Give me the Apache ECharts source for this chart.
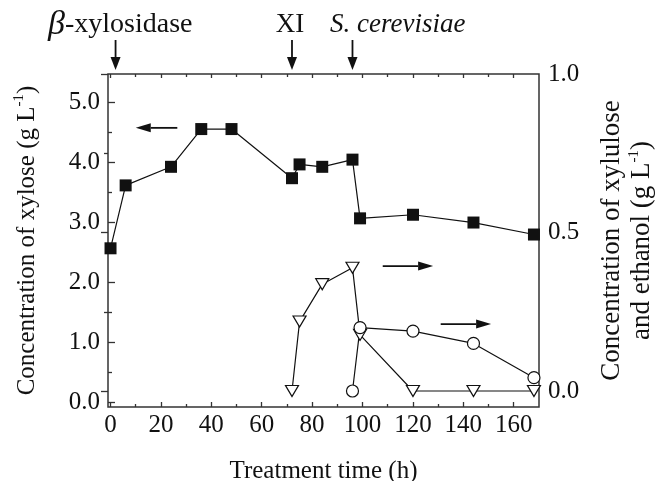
<!DOCTYPE html>
<html lang="en">
<head>
<meta charset="UTF-8">
<title>Xylose conversion</title>
<script src="https://cdn.jsdelivr.net/npm/echarts@6/dist/echarts.min.js"></script>
<style>
  html, body { margin: 0; padding: 0; background: #fff; }
  .box { width: 657px; height: 481px; }
</style>
</head>
<body>
<div class="box"></div>
<script>
// xylose, left axis (g/L)
let tXylose = [0, 6, 24, 36, 48, 72, 75, 84, 96, 99, 120, 144, 168]
let xylose = [2.57, 3.62, 3.93, 4.56, 4.56, 3.74, 3.97, 3.93, 4.05, 3.07, 3.13, 3.00, 2.80]
// xylulose, right axis
let tXylulose = [72, 75, 84, 96, 99, 120, 144, 168]
let xylulose = [0, 0.219, 0.337, 0.389, 0.177, 0, 0, 0]
// ethanol, right axis
let tEthanol = [96, 99, 120, 144, 168]
let ethanol = [0, 0.200, 0.189, 0.150, 0.042]
// when things were added (h)
let eventTimes = [2, 72, 96]

const FONT = 'Liberation Serif'
const INK = '#111'
const AXC = '#333'

function pairs(xs, ys) { return xs.map((x, i) => [x, ys[i]]) }

let chart = echarts.init(document.querySelector('.box'))

let hidden = { show: false }
let tickStyle = { color: AXC, width: 1.3 }
let labelStyle = { fontFamily: FONT, fontSize: 25, color: INK }
function nameStyle(size) {
    return {
        fontFamily: FONT, fontSize: size, color: INK, lineHeight: 30,
        rich: {
            a: { fontFamily: FONT, fontSize: size, color: INK, lineHeight: 30 },
            s: { fontFamily: FONT, fontSize: 15, color: INK, verticalAlign: 'top', lineHeight: 30 }
        }
    }
}
let noBounds = { outerBoundsMode: 'none', containLabel: false }

let option = {
    animation: false,
    grid: [
        // data grid, draws the frame
        Object.assign({ left: 108, right: 118, top: 74, bottom: 74, show: true, borderColor: AXC, borderWidth: 1.5, backgroundColor: 'transparent' }, noBounds),
        // x ticks 0..160
        Object.assign({ left: 110.5, width: 403.2, top: 74, bottom: 74 }, noBounds),
        // left y ticks 0..5
        Object.assign({ left: 108, right: 118, top: 102.7, height: 299.6 }, noBounds),
        // right y ticks 0..1
        Object.assign({ left: 108, right: 118, top: 74, height: 317 }, noBounds)
    ],
    xAxis: [
        { gridIndex: 0, type: 'value', min: -1, max: 170, axisLine: hidden, axisTick: hidden, axisLabel: hidden, splitLine: hidden,
          name: 'Treatment time (h)', nameLocation: 'middle', nameGap: 49, nameTextStyle: nameStyle(25) },
        { gridIndex: 1, type: 'value', min: 0, max: 160, interval: 20, position: 'bottom',
          axisLine: hidden, splitLine: hidden,
          axisTick: { inside: true, length: 5, lineStyle: tickStyle },
          minorTick: { show: true, splitNumber: 2, length: 3, lineStyle: tickStyle },
          axisLabel: Object.assign({ margin: 6 }, labelStyle) },
        { gridIndex: 1, type: 'value', min: 0, max: 160, interval: 20, position: 'top',
          axisLine: hidden, splitLine: hidden, axisLabel: hidden,
          axisTick: { inside: true, length: 4, lineStyle: tickStyle },
          minorTick: { show: true, splitNumber: 2, length: 3, lineStyle: tickStyle } },
        { gridIndex: 2, type: 'value', show: false },
        { gridIndex: 3, type: 'value', show: false }
    ],
    yAxis: [
        { gridIndex: 0, type: 'value', min: -0.0785, max: 5.479, position: 'left',
          axisLine: hidden, axisTick: hidden, axisLabel: hidden, splitLine: hidden,
          name: '{a|Concentration of xylose (g L}{s|-1}{a|)}', nameLocation: 'middle', nameRotate: 90, nameGap: 66, nameTextStyle: nameStyle(25) },
        { gridIndex: 0, type: 'value', min: -0.0505, max: 1.0, position: 'right',
          axisLine: hidden, axisTick: hidden, axisLabel: hidden, splitLine: hidden,
          name: '{a|Concentration of xylulose}\n{a|and ethanol (g L}{s|-1}{a|)}', nameLocation: 'middle', nameRotate: 90, nameGap: 58, nameTextStyle: nameStyle(27) },
        { gridIndex: 1, type: 'value', show: false },
        { gridIndex: 2, type: 'value', min: 0, max: 5, interval: 1, position: 'left',
          axisLine: hidden, splitLine: hidden,
          axisTick: { inside: true, length: 7, lineStyle: tickStyle },
          minorTick: { show: true, splitNumber: 2, length: 4, lineStyle: tickStyle },
          axisLabel: Object.assign({ margin: 8, formatter: v => v.toFixed(1) }, labelStyle) },
        { gridIndex: 3, type: 'value', min: 0, max: 1, interval: 0.5, position: 'right',
          axisLine: hidden, splitLine: hidden,
          axisTick: { inside: true, length: 7, lineStyle: tickStyle },
          minorTick: { show: true, splitNumber: 2, length: 4, lineStyle: tickStyle },
          axisLabel: Object.assign({ margin: 9, formatter: v => v.toFixed(1) }, labelStyle) }
    ],
    series: [
        {
            name: 'xylose', type: 'line', xAxisIndex: 0, yAxisIndex: 0,
            data: pairs(tXylose, xylose),
            symbol: 'rect', symbolSize: 12,
            itemStyle: { color: INK },
            lineStyle: { color: INK, width: 1.2 },
            z: 4
        },
        {
            name: 'xylulose', type: 'line', xAxisIndex: 0, yAxisIndex: 1,
            data: pairs(tXylulose, xylulose),
            symbol: 'triangle', symbolRotate: 180, symbolSize: [13, 11],
            itemStyle: { color: '#fff', borderColor: INK, borderWidth: 1.2 },
            lineStyle: { color: INK, width: 1.2 },
            z: 3
        },
        {
            name: 'ethanol', type: 'line', xAxisIndex: 0, yAxisIndex: 1,
            data: pairs(tEthanol, ethanol),
            symbol: 'circle', symbolSize: 12,
            itemStyle: { color: '#fff', borderColor: INK, borderWidth: 1.2 },
            lineStyle: { color: INK, width: 1.2 },
            z: 3
        }
    ]
}
chart.setOption(option)

// arrows and labels on top
function arrow(x1, y1, x2, y2, head, half) {
    let dx = x2 - x1, dy = y2 - y1
    let len = Math.sqrt(dx * dx + dy * dy)
    let ux = dx / len, uy = dy / len
    let bx = x2 - ux * head, by = y2 - uy * head
    return [
        { type: 'line', shape: { x1: x1, y1: y1, x2: bx, y2: by }, style: { stroke: INK, lineWidth: 1.8 } },
        { type: 'polygon', shape: { points: [[x2, y2], [bx - uy * half, by + ux * half], [bx + uy * half, by - ux * half]] }, style: { fill: INK } }
    ]
}

let px = t => chart.convertToPixel({ xAxisIndex: 0 }, t)
let ptL = (t, v) => chart.convertToPixel({ xAxisIndex: 0, yAxisIndex: 0 }, [t, v])
let ptR = (t, v) => chart.convertToPixel({ xAxisIndex: 0, yAxisIndex: 1 }, [t, v])

let g = []
eventTimes.forEach(t => { g = g.concat(arrow(px(t), 40, px(t), 70, 13, 5)) })

let a1 = ptL(26.5, 4.58), a1e = ptL(10, 4.58)
g = g.concat(arrow(a1[0], a1[1], a1e[0], a1e[1], 15, 4.5))
let a2 = ptR(108, 0.394), a2e = ptR(128, 0.394)
g = g.concat(arrow(a2[0], a2[1], a2e[0], a2e[1], 15, 4.5))
let a3 = ptR(131, 0.211), a3e = ptR(151, 0.211)
g = g.concat(arrow(a3[0], a3[1], a3e[0], a3e[1], 15, 4.5))

g.push({
    type: 'text', x: 48, y: 25,
    style: {
        text: '{b|β}{t|-xylosidase}', align: 'left', verticalAlign: 'middle',
        rich: {
            b: { fontFamily: FONT, fontStyle: 'italic', fontSize: 34, fill: INK },
            t: { fontFamily: FONT, fontSize: 28, fill: INK }
        }
    }
})
g.push({ type: 'text', x: px(eventTimes[1]) - 2, y: 25, style: { text: 'XI', align: 'center', verticalAlign: 'middle', fontFamily: FONT, fontSize: 27, fill: INK } })
g.push({ type: 'text', x: 330, y: 25, style: { text: 'S. cerevisiae', align: 'left', verticalAlign: 'middle', fontFamily: FONT, fontStyle: 'italic', fontSize: 27, fill: INK } })

chart.setOption({ graphic: g })
</script>
</body>
</html>
